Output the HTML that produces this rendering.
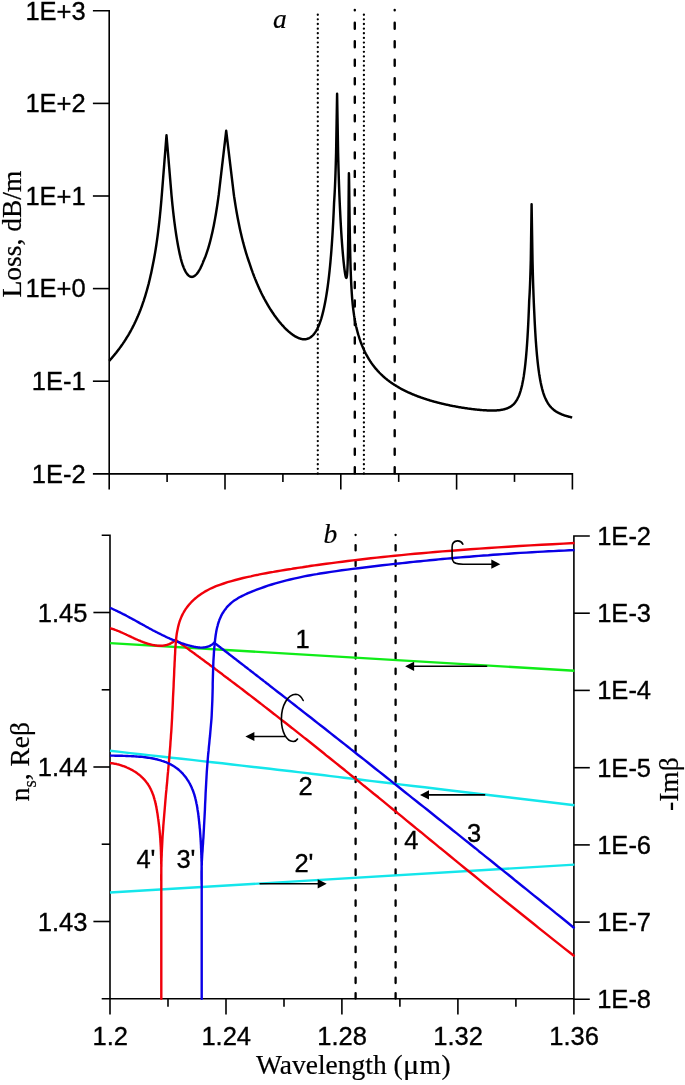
<!DOCTYPE html>
<html><head><meta charset="utf-8"><title>Loss and mode dispersion</title>
<style>html,body{margin:0;padding:0;background:#fff}svg{display:block}text{fill:#000;stroke:#000}.sans{font-family:"Liberation Sans",sans-serif;font-size:25.5px;stroke-width:0.35px}.serif{font-family:"Liberation Serif",serif;font-size:27.5px;stroke-width:0.2px}</style></head><body>
<svg width="685" height="1085" viewBox="0 0 685 1085">
<rect width="685" height="1085" fill="#fff"/>
<g stroke="#000" stroke-width="1.6" fill="none">
<path d="M92.9,10.8 H109.2 V489.6"/>
<path d="M92.9,473.9 H572.4 V489.6"/>
<path d="M92.9,103.4 H109.2"/>
<path d="M92.9,196.0 H109.2"/>
<path d="M92.9,288.6 H109.2"/>
<path d="M92.9,381.2 H109.2"/>
<path d="M167.1,473.9 V481.9"/>
<path d="M225.0,473.9 V489.6"/>
<path d="M282.9,473.9 V481.9"/>
<path d="M340.8,473.9 V489.6"/>
<path d="M398.7,473.9 V481.9"/>
<path d="M456.6,473.9 V489.6"/>
<path d="M514.5,473.9 V481.9"/>
</g>
<text x="85.7" y="19.5" text-anchor="end" class="sans">1E+3</text>
<text x="85.7" y="112.1" text-anchor="end" class="sans">1E+2</text>
<text x="85.7" y="204.7" text-anchor="end" class="sans">1E+1</text>
<text x="85.7" y="297.3" text-anchor="end" class="sans">1E+0</text>
<text x="85.7" y="389.9" text-anchor="end" class="sans">1E-1</text>
<text x="85.7" y="482.6" text-anchor="end" class="sans">1E-2</text>
<text transform="translate(21.2,297.5) rotate(-90)" class="serif">Loss, dB/m</text>
<text x="273" y="27.7" font-style="italic" class="serif">a</text>
<g stroke="#000" fill="none" stroke-linecap="round">
<path d="M317.8,473.5 V14.3" stroke-width="2.3" stroke-dasharray="0.01 4.624"/>
<path d="M363.9,473.5 V14.3" stroke-width="2.3" stroke-dasharray="0.01 4.624"/>
<path d="M354.8,473.2 V10" stroke-width="2.4" stroke-dasharray="6 12.52"/>
<path d="M394.7,473.2 V10" stroke-width="2.4" stroke-dasharray="6 12.52"/>
</g>
<path d="M109.2,360.9 L109.7,360.3 L110.2,359.8 L110.7,359.2 L111.2,358.6 L111.7,358.1 L112.2,357.5 L112.7,356.9 L113.2,356.3 L113.7,355.7 L114.2,355.1 L114.7,354.5 L115.2,353.9 L115.7,353.3 L116.2,352.7 L116.7,352.0 L117.2,351.4 L117.7,350.7 L118.2,350.1 L118.7,349.4 L119.2,348.8 L119.7,348.1 L120.2,347.4 L120.7,346.7 L121.2,346.0 L121.7,345.3 L122.2,344.6 L122.7,343.9 L123.2,343.1 L123.7,342.4 L124.2,341.7 L124.7,340.9 L125.2,340.1 L125.7,339.3 L126.2,338.5 L126.7,337.7 L127.2,336.9 L127.7,336.1 L128.2,335.3 L128.7,334.4 L129.2,333.6 L129.7,332.7 L130.2,331.8 L130.7,330.9 L131.2,330.0 L131.7,329.0 L132.2,328.1 L132.7,327.1 L133.2,326.2 L133.7,325.2 L134.2,324.2 L134.7,323.1 L135.2,322.1 L135.7,321.0 L136.2,319.9 L136.7,318.8 L137.2,317.7 L137.7,316.6 L138.2,315.4 L138.7,314.2 L139.2,313.0 L139.7,311.7 L140.2,310.5 L140.7,309.2 L141.2,307.8 L141.7,306.5 L142.2,305.1 L142.7,303.7 L143.2,302.2 L143.7,300.8 L144.2,299.2 L144.7,297.7 L145.2,296.1 L145.7,294.4 L146.2,292.7 L146.7,291.0 L147.2,289.2 L147.7,287.4 L148.2,285.5 L148.7,283.6 L149.2,281.5 L149.7,279.5 L150.2,277.3 L150.7,275.1 L151.2,272.9 L151.7,270.5 L152.2,268.0 L152.7,265.6 L153.2,263.1 L153.7,260.5 L154.2,257.8 L154.7,255.0 L155.2,252.1 L155.7,249.0 L156.2,245.8 L156.7,242.4 L157.2,238.9 L157.7,235.1 L158.2,231.2 L158.5,228.7 L158.6,227.9 L158.7,227.0 L158.8,226.2 L158.9,225.3 L159.0,224.4 L159.1,223.5 L159.2,222.6 L159.3,221.7 L159.4,220.8 L159.5,219.9 L159.6,218.9 L159.7,218.0 L159.8,217.0 L159.9,216.0 L160.0,215.0 L160.1,214.0 L160.2,213.0 L160.3,212.0 L160.4,210.9 L160.5,209.9 L160.6,208.8 L160.7,207.7 L160.8,206.7 L160.9,205.6 L161.0,204.4 L161.1,203.3 L161.2,202.2 L161.3,201.0 L161.4,199.8 L161.5,198.6 L161.6,197.4 L161.7,196.2 L161.8,195.0 L161.9,193.7 L162.0,192.5 L162.1,191.2 L162.2,189.9 L162.3,188.6 L162.4,187.4 L162.5,186.1 L162.6,184.8 L162.7,183.6 L162.8,182.3 L162.9,181.0 L163.0,179.8 L163.1,178.5 L163.2,177.2 L163.3,175.9 L163.4,174.7 L163.5,173.4 L163.6,172.1 L163.7,170.9 L163.8,169.6 L163.9,168.3 L164.0,167.1 L164.1,165.8 L164.2,164.5 L164.3,163.2 L164.4,162.0 L164.5,160.7 L164.6,159.4 L164.7,158.2 L164.8,156.9 L164.9,155.6 L165.0,154.4 L165.1,153.1 L165.2,151.8 L165.3,150.5 L165.4,149.3 L165.5,148.0 L165.6,146.7 L165.7,145.5 L165.8,144.2 L165.9,142.9 L166.0,141.7 L166.1,140.4 L166.2,139.1 L166.3,137.8 L166.4,136.6 L166.5,135.3 L166.6,136.5 L166.7,137.7 L166.8,138.9 L166.9,140.1 L167.0,141.3 L167.1,142.5 L167.2,143.7 L167.3,144.9 L167.4,146.0 L167.5,147.2 L167.6,148.4 L167.7,149.6 L167.8,150.8 L167.9,152.0 L168.0,153.2 L168.1,154.4 L168.2,155.6 L168.3,156.8 L168.4,158.0 L168.5,159.2 L168.6,160.4 L168.7,161.6 L168.8,162.8 L168.9,164.0 L169.0,165.2 L169.1,166.3 L169.2,167.5 L169.3,168.7 L169.4,169.9 L169.5,171.1 L169.6,172.3 L169.7,173.5 L169.8,174.7 L169.9,175.9 L170.0,177.1 L170.1,178.3 L170.2,179.5 L170.3,180.7 L170.4,181.9 L170.5,183.1 L170.6,184.3 L170.7,185.4 L170.8,186.6 L170.9,187.8 L171.0,189.0 L171.1,190.2 L171.2,191.4 L171.3,192.6 L171.4,193.8 L171.5,195.0 L171.6,196.1 L171.7,197.1 L171.8,198.2 L171.9,199.2 L172.0,200.3 L172.1,201.3 L172.2,202.3 L172.3,203.3 L172.4,204.3 L172.5,205.3 L172.6,206.2 L172.7,207.2 L172.8,208.1 L172.9,209.0 L173.0,210.0 L173.1,210.9 L173.2,211.8 L173.3,212.7 L173.4,213.5 L173.5,214.4 L173.6,215.3 L173.7,216.1 L173.8,217.0 L173.9,217.8 L174.0,218.6 L174.1,219.5 L174.2,220.3 L174.3,221.1 L174.4,221.8 L174.7,224.2 L175.2,227.9 L175.7,231.4 L176.2,234.7 L176.7,237.9 L177.2,240.9 L177.7,243.8 L178.2,246.5 L178.7,249.1 L179.2,251.5 L179.7,253.9 L180.2,256.1 L180.7,258.2 L181.2,260.1 L181.7,261.9 L182.2,263.5 L182.7,265.0 L183.2,266.3 L183.7,267.6 L184.2,268.8 L184.7,269.9 L185.2,270.9 L185.7,271.8 L186.2,272.6 L186.7,273.4 L187.2,274.1 L187.7,274.7 L188.2,275.2 L188.7,275.6 L189.2,276.0 L189.7,276.3 L190.2,276.6 L190.7,276.7 L191.2,276.8 L191.7,276.9 L192.2,276.9 L192.7,276.8 L193.2,276.6 L193.7,276.4 L194.2,276.2 L194.7,275.8 L195.2,275.5 L195.7,275.0 L196.2,274.5 L196.7,274.0 L197.2,273.4 L197.7,272.7 L198.2,272.0 L198.7,271.2 L199.2,270.4 L199.7,269.5 L200.2,268.6 L200.7,267.6 L201.2,266.5 L201.7,265.4 L202.2,264.3 L202.7,263.1 L203.2,261.8 L203.7,260.5 L204.2,259.4 L204.7,258.2 L205.2,257.0 L205.7,255.7 L206.2,254.3 L206.7,252.9 L207.2,251.4 L207.7,249.9 L208.2,248.3 L208.7,246.6 L209.2,244.9 L209.7,243.1 L210.2,241.2 L210.7,239.3 L211.2,237.3 L211.7,235.1 L212.2,233.0 L212.7,230.7 L213.2,228.3 L213.7,225.9 L214.2,223.3 L214.7,220.6 L215.2,217.9 L215.7,215.0 L216.2,212.0 L216.7,208.8 L217.2,205.6 L217.7,202.2 L218.2,198.7 L218.3,197.9 L218.4,197.2 L218.5,196.5 L218.6,195.7 L218.7,195.0 L218.8,194.1 L218.9,193.3 L219.0,192.4 L219.1,191.6 L219.2,190.7 L219.3,189.9 L219.4,189.0 L219.5,188.2 L219.6,187.3 L219.7,186.4 L219.8,185.6 L219.9,184.7 L220.0,183.9 L220.1,183.0 L220.2,182.2 L220.3,181.3 L220.4,180.4 L220.5,179.6 L220.6,178.7 L220.7,177.9 L220.8,177.0 L220.9,176.2 L221.0,175.3 L221.1,174.5 L221.2,173.6 L221.3,172.7 L221.4,171.9 L221.5,171.0 L221.6,170.2 L221.7,169.3 L221.8,168.5 L221.9,167.6 L222.0,166.8 L222.1,165.9 L222.2,165.0 L222.3,164.2 L222.4,163.3 L222.5,162.5 L222.6,161.6 L222.7,160.8 L222.8,159.9 L222.9,159.0 L223.0,158.2 L223.1,157.3 L223.2,156.5 L223.3,155.6 L223.4,154.8 L223.5,153.9 L223.6,153.1 L223.7,152.2 L223.8,151.3 L223.9,150.5 L224.0,149.6 L224.1,148.8 L224.2,147.9 L224.3,147.1 L224.4,146.2 L224.5,145.4 L224.6,144.5 L224.7,143.6 L224.8,142.8 L224.9,141.9 L225.0,141.1 L225.1,140.2 L225.2,139.4 L225.3,138.5 L225.4,137.6 L225.5,136.8 L225.6,135.9 L225.7,135.1 L225.8,134.2 L225.9,133.4 L226.0,132.5 L226.1,131.7 L226.2,130.8 L226.3,131.6 L226.4,132.5 L226.5,133.3 L226.6,134.1 L226.7,135.0 L226.8,135.8 L226.9,136.6 L227.0,137.5 L227.1,138.3 L227.2,139.1 L227.3,140.0 L227.4,140.8 L227.5,141.6 L227.6,142.5 L227.7,143.3 L227.8,144.1 L227.9,145.0 L228.0,145.8 L228.1,146.6 L228.2,147.5 L228.3,148.3 L228.4,149.1 L228.5,150.0 L228.6,150.8 L228.7,151.6 L228.8,152.5 L228.9,153.3 L229.0,154.1 L229.1,155.0 L229.2,155.8 L229.3,156.6 L229.4,157.5 L229.5,158.3 L229.6,159.1 L229.7,160.0 L229.8,160.8 L229.9,161.6 L230.0,162.5 L230.1,163.3 L230.2,164.2 L230.3,165.0 L230.4,165.8 L230.5,166.7 L230.6,167.5 L230.7,168.3 L230.8,169.2 L230.9,170.0 L231.0,170.8 L231.1,171.7 L231.2,172.5 L231.3,173.3 L231.4,174.2 L231.5,175.0 L231.6,175.8 L231.7,176.7 L231.8,177.5 L231.9,178.3 L232.0,179.2 L232.1,180.0 L232.2,180.8 L232.3,181.7 L232.4,182.5 L232.5,183.3 L232.6,184.2 L232.7,185.0 L232.8,185.8 L232.9,186.7 L233.0,187.5 L233.1,188.3 L233.2,189.2 L233.3,190.0 L233.4,190.8 L233.5,191.7 L233.6,192.5 L233.7,193.3 L233.8,194.2 L233.9,195.0 L234.0,195.7 L234.1,196.4 L234.2,197.0 L234.7,200.3 L235.2,203.5 L235.7,206.6 L236.2,209.6 L236.7,212.5 L237.2,215.3 L237.7,218.0 L238.2,220.6 L238.7,223.1 L239.2,225.5 L239.7,227.9 L240.2,230.2 L240.7,232.4 L241.2,234.6 L241.7,236.7 L242.2,238.7 L242.7,240.7 L243.2,242.7 L243.7,244.5 L244.2,246.4 L244.7,248.2 L245.2,249.9 L245.7,251.6 L246.2,253.3 L246.7,254.9 L247.2,256.5 L247.7,258.0 L248.2,259.5 L248.7,261.0 L249.2,262.4 L249.7,263.9 L250.2,265.4 L250.7,266.9 L251.2,268.4 L251.7,269.8 L252.2,271.2 L252.7,272.6 L253.2,273.9 L253.7,275.3 L254.2,276.6 L254.7,277.8 L255.2,279.1 L255.7,280.3 L256.2,281.5 L256.7,282.7 L257.2,283.9 L257.7,285.1 L258.2,286.2 L258.7,287.3 L259.2,288.4 L259.7,289.5 L260.2,290.6 L260.7,291.6 L261.2,292.7 L261.7,293.7 L262.2,294.7 L262.7,295.7 L263.2,296.7 L263.7,297.6 L264.2,298.6 L264.7,299.5 L265.2,300.4 L265.7,301.3 L266.2,302.2 L266.7,303.1 L267.2,304.0 L267.7,304.8 L268.2,305.7 L268.7,306.5 L269.2,307.3 L269.7,308.2 L270.2,309.0 L270.7,309.7 L271.2,310.5 L271.7,311.3 L272.2,312.0 L272.7,312.8 L273.2,313.5 L273.7,314.2 L274.2,315.0 L274.7,315.7 L275.2,316.4 L275.7,317.0 L276.2,317.7 L276.7,318.4 L277.2,319.0 L277.7,319.7 L278.2,320.3 L278.7,321.0 L279.2,321.6 L279.7,322.2 L280.2,322.8 L280.7,323.4 L281.2,324.0 L281.7,324.5 L282.2,325.1 L282.7,325.7 L283.2,326.2 L283.7,326.7 L284.2,327.3 L284.7,327.8 L285.2,328.3 L285.7,328.8 L286.2,329.3 L286.7,329.8 L287.2,330.2 L287.7,330.7 L288.2,331.1 L288.7,331.6 L289.2,332.0 L289.7,332.4 L290.2,332.8 L290.7,333.2 L291.2,333.6 L291.7,334.0 L292.2,334.4 L292.7,334.7 L293.2,335.1 L293.7,335.4 L294.2,335.7 L294.7,336.1 L295.2,336.4 L295.7,336.6 L296.2,336.9 L296.7,337.2 L297.2,337.4 L297.7,337.7 L298.2,337.9 L298.7,338.1 L299.2,338.3 L299.7,338.4 L300.2,338.6 L300.7,338.8 L301.2,338.9 L301.7,339.0 L302.2,339.1 L302.7,339.2 L303.2,339.2 L303.7,339.2 L304.2,339.3 L304.7,339.3 L305.2,339.2 L305.7,339.2 L306.2,339.1 L306.7,339.0 L307.2,338.9 L307.7,338.7 L308.2,338.5 L308.7,338.3 L309.2,338.1 L309.7,337.8 L310.2,337.5 L310.7,337.2 L311.2,336.8 L311.7,336.4 L312.2,336.0 L312.7,335.5 L313.2,335.0 L313.7,334.4 L314.2,333.8 L314.7,333.1 L315.2,332.4 L315.7,331.6 L316.2,330.8 L316.7,329.9 L317.2,329.0 L317.7,327.9 L318.2,326.9 L318.7,325.7 L319.2,324.5 L319.7,323.2 L320.2,321.8 L320.7,320.3 L321.2,318.8 L321.7,317.1 L322.2,315.3 L322.7,313.4 L323.2,311.4 L323.7,309.3 L324.2,307.0 L324.7,304.6 L325.2,302.1 L325.7,299.3 L326.2,296.4 L326.7,293.3 L327.2,290.0 L327.7,286.5 L328.2,282.7 L328.7,278.6 L329.1,275.1 L329.2,274.2 L329.3,273.3 L329.4,272.4 L329.5,271.5 L329.6,270.5 L329.7,269.5 L329.8,268.5 L329.9,267.5 L330.0,266.5 L330.1,265.5 L330.2,264.4 L330.3,263.3 L330.4,262.3 L330.5,261.2 L330.6,260.0 L330.7,258.9 L330.8,257.7 L330.9,256.5 L331.0,255.3 L331.1,254.1 L331.2,252.8 L331.3,251.6 L331.4,250.3 L331.5,249.0 L331.6,247.6 L331.7,246.2 L331.8,244.8 L331.9,243.4 L332.0,241.9 L332.1,240.5 L332.2,238.9 L332.3,237.4 L332.4,235.8 L332.5,234.2 L332.6,232.5 L332.7,230.8 L332.8,229.1 L332.9,227.4 L333.0,225.5 L333.1,223.7 L333.2,221.8 L333.3,219.8 L333.4,217.8 L333.5,215.8 L333.6,213.7 L333.7,211.5 L333.8,209.3 L333.9,207.0 L334.0,204.7 L334.1,202.3 L334.2,200.8 L334.3,199.3 L334.4,197.6 L334.5,195.9 L334.6,194.1 L334.7,192.3 L334.8,190.3 L334.9,188.2 L335.0,186.0 L335.1,183.6 L335.2,181.2 L335.3,178.6 L335.4,175.9 L335.5,173.0 L335.6,170.0 L335.7,166.8 L335.8,163.5 L335.9,160.0 L336.0,156.4 L336.1,152.6 L336.2,146.7 L336.3,140.8 L336.4,134.9 L336.5,129.0 L336.6,123.2 L336.7,117.3 L336.8,111.4 L336.9,105.5 L337.0,99.6 L337.1,93.7 L337.2,99.6 L337.3,105.5 L337.4,111.4 L337.5,117.3 L337.6,123.2 L337.7,129.0 L337.8,134.9 L337.9,140.8 L338.0,146.7 L338.1,152.6 L338.2,156.8 L338.3,160.8 L338.4,164.6 L338.5,168.2 L338.6,171.7 L338.7,175.0 L338.8,178.2 L338.9,181.3 L339.0,184.3 L339.1,187.1 L339.2,189.9 L339.3,192.5 L339.4,195.1 L339.5,197.5 L339.6,199.9 L339.7,202.3 L339.8,204.5 L339.9,206.7 L340.0,208.8 L340.1,210.9 L340.2,212.9 L340.3,215.0 L340.4,217.0 L340.5,218.9 L340.6,220.8 L340.7,222.6 L340.8,224.4 L340.9,226.2 L341.0,227.9 L341.1,229.5 L341.2,231.2 L341.3,232.8 L341.4,234.3 L341.5,235.9 L341.6,237.3 L341.7,238.8 L341.8,240.2 L341.9,241.6 L342.0,243.0 L342.1,244.4 L342.2,245.7 L342.3,247.0 L342.4,248.2 L342.5,249.5 L342.6,250.7 L342.7,251.9 L342.8,253.1 L342.9,254.2 L343.0,255.3 L343.1,256.4 L343.2,257.5 L343.3,258.5 L343.4,259.6 L343.5,260.6 L343.6,261.6 L343.7,262.5 L343.8,263.5 L343.9,264.4 L344.0,265.3 L344.1,266.2 L344.2,267.0 L344.3,267.9 L344.4,268.7 L344.5,269.5 L344.6,270.2 L344.7,271.0 L344.8,271.7 L344.9,272.4 L345.0,273.0 L345.1,273.6 L345.2,274.2 L345.3,274.8 L345.4,275.3 L345.5,275.8 L345.6,276.2 L345.7,276.6 L345.8,277.0 L345.9,277.3 L346.0,277.5 L346.1,277.7 L346.2,277.8 L346.3,277.9 L346.4,277.8 L346.5,277.7 L346.6,277.5 L346.7,277.1 L346.8,276.6 L346.9,276.0 L347.0,275.2 L347.1,274.2 L347.2,273.0 L347.3,271.6 L347.4,269.9 L347.5,267.8 L347.6,265.4 L347.7,262.5 L347.8,259.2 L347.9,255.3 L348.0,250.7 L348.1,245.4 L348.2,239.2 L348.3,232.0 L348.4,223.7 L348.5,214.2 L348.6,203.6 L348.7,192.3 L348.8,181.4 L348.9,173.3 L349.0,175.3 L349.1,180.5 L349.2,187.7 L349.3,195.7 L349.4,204.0 L349.5,211.9 L349.6,219.4 L349.7,226.4 L349.8,232.7 L349.9,238.6 L350.0,243.9 L350.1,248.8 L350.2,253.3 L350.3,257.4 L350.4,261.2 L350.5,264.7 L350.6,267.9 L350.7,270.9 L350.8,273.7 L350.9,276.3 L351.0,278.7 L351.1,281.0 L351.2,283.1 L351.3,285.1 L351.4,287.0 L351.5,288.7 L351.6,290.4 L351.7,292.0 L351.8,293.5 L351.9,294.9 L352.0,296.3 L352.1,297.6 L352.2,298.8 L352.3,300.0 L352.4,301.1 L352.5,302.2 L352.6,303.3 L352.7,304.3 L352.8,305.3 L352.9,306.2 L353.0,307.1 L353.1,308.0 L353.2,308.8 L353.3,309.7 L353.4,310.5 L353.5,311.2 L353.6,312.0 L353.7,312.7 L353.8,313.4 L353.9,314.1 L354.0,314.8 L354.1,315.5 L354.2,316.1 L354.3,316.7 L354.4,317.4 L354.5,318.0 L354.6,318.6 L354.7,319.1 L354.8,319.7 L354.9,320.2 L355.0,320.8 L355.1,321.3 L355.2,321.8 L355.3,322.4 L355.4,322.9 L355.5,323.4 L355.6,323.8 L355.7,324.3 L355.8,324.8 L355.9,325.3 L356.0,325.7 L356.1,326.2 L356.2,326.6 L356.3,327.1 L356.4,327.5 L356.5,327.9 L356.6,328.3 L356.7,328.7 L356.8,329.1 L357.2,330.7 L357.7,332.6 L358.2,334.4 L358.7,336.0 L359.2,337.6 L359.7,339.2 L360.2,340.6 L360.7,342.0 L361.2,343.3 L361.7,344.6 L362.2,345.9 L362.7,347.1 L363.2,348.2 L363.7,349.3 L364.2,350.4 L364.7,351.5 L365.2,352.5 L365.7,353.5 L366.2,354.4 L366.7,355.3 L367.2,356.2 L367.7,357.1 L368.2,358.0 L368.7,358.8 L369.2,359.6 L369.7,360.4 L370.2,361.2 L370.7,361.9 L371.2,362.7 L371.7,363.4 L372.2,364.1 L372.7,364.8 L373.2,365.4 L373.7,366.1 L374.2,366.7 L374.7,367.4 L375.2,368.0 L375.7,368.6 L376.2,369.2 L376.7,369.7 L377.2,370.3 L377.7,370.9 L378.2,371.4 L378.7,371.9 L379.2,372.5 L379.7,373.0 L380.2,373.5 L380.7,374.0 L381.2,374.5 L381.7,374.9 L382.2,375.4 L382.7,375.9 L383.2,376.3 L383.7,376.8 L384.2,377.2 L384.7,377.6 L385.2,378.1 L385.7,378.5 L386.2,378.9 L386.7,379.3 L387.2,379.7 L387.7,380.1 L388.2,380.5 L388.7,380.8 L389.2,381.2 L389.7,381.6 L390.2,382.0 L390.7,382.3 L391.2,382.7 L391.7,383.0 L392.2,383.4 L392.7,383.7 L393.2,384.0 L393.7,384.4 L394.2,384.7 L394.7,385.0 L395.2,385.3 L395.7,385.6 L396.2,385.9 L396.7,386.2 L397.2,386.5 L397.7,386.8 L398.2,387.1 L398.7,387.4 L399.2,387.7 L399.7,388.0 L400.2,388.3 L400.7,388.6 L401.2,388.8 L401.7,389.1 L402.2,389.4 L402.7,389.6 L403.2,389.9 L403.7,390.1 L404.2,390.4 L404.7,390.6 L405.2,390.9 L405.7,391.1 L406.2,391.4 L406.7,391.6 L407.2,391.8 L407.7,392.1 L408.2,392.3 L408.7,392.5 L409.2,392.8 L409.7,393.0 L410.2,393.2 L410.7,393.4 L411.2,393.7 L411.7,393.9 L412.2,394.1 L412.7,394.3 L413.2,394.5 L413.7,394.7 L414.2,394.9 L414.7,395.1 L415.2,395.3 L415.7,395.5 L416.2,395.7 L416.7,395.9 L417.2,396.1 L417.7,396.3 L418.2,396.5 L418.7,396.7 L419.2,396.8 L419.7,397.0 L420.2,397.2 L420.7,397.4 L421.2,397.6 L421.7,397.7 L422.2,397.9 L422.7,398.1 L423.2,398.2 L423.7,398.4 L424.2,398.6 L424.7,398.7 L425.2,398.9 L425.7,399.1 L426.2,399.2 L426.7,399.4 L427.2,399.6 L427.7,399.7 L428.2,399.9 L428.7,400.0 L429.2,400.2 L429.7,400.3 L430.2,400.5 L430.7,400.6 L431.2,400.8 L431.7,400.9 L432.2,401.1 L432.7,401.2 L433.2,401.3 L433.7,401.5 L434.2,401.6 L434.7,401.8 L435.2,401.9 L435.7,402.0 L436.2,402.2 L436.7,402.3 L437.2,402.4 L437.7,402.6 L438.2,402.7 L438.7,402.8 L439.2,402.9 L439.7,403.1 L440.2,403.2 L440.7,403.3 L441.2,403.4 L441.7,403.6 L442.2,403.7 L442.7,403.8 L443.2,403.9 L443.7,404.0 L444.2,404.1 L444.7,404.3 L445.2,404.4 L445.7,404.5 L446.2,404.6 L446.7,404.7 L447.2,404.8 L447.7,404.9 L448.2,405.0 L448.7,405.1 L449.2,405.2 L449.7,405.3 L450.2,405.5 L450.7,405.6 L451.2,405.7 L451.7,405.8 L452.2,405.9 L452.7,406.0 L453.2,406.1 L453.7,406.1 L454.2,406.2 L454.7,406.3 L455.2,406.4 L455.7,406.5 L456.2,406.6 L456.7,406.7 L457.2,406.8 L457.7,406.9 L458.2,407.0 L458.7,407.1 L459.2,407.2 L459.7,407.2 L460.2,407.3 L460.7,407.4 L461.2,407.5 L461.7,407.6 L462.2,407.7 L462.7,407.7 L463.2,407.8 L463.7,407.9 L464.2,408.0 L464.7,408.0 L465.2,408.1 L465.7,408.2 L466.2,408.3 L466.7,408.3 L467.2,408.4 L467.7,408.5 L468.2,408.6 L468.7,408.6 L469.2,408.7 L469.7,408.8 L470.2,408.8 L470.7,408.9 L471.2,409.0 L471.7,409.0 L472.2,409.1 L472.7,409.1 L473.2,409.2 L473.7,409.3 L474.2,409.3 L474.7,409.4 L475.2,409.4 L475.7,409.5 L476.2,409.5 L476.7,409.6 L477.2,409.6 L477.7,409.7 L478.2,409.7 L478.7,409.8 L479.2,409.8 L479.7,409.9 L480.2,409.9 L480.7,410.0 L481.2,410.0 L481.7,410.1 L482.2,410.1 L482.7,410.1 L483.2,410.2 L483.7,410.2 L484.2,410.2 L484.7,410.3 L485.2,410.3 L485.7,410.3 L486.2,410.3 L486.7,410.4 L487.2,410.4 L487.7,410.4 L488.2,410.4 L488.7,410.4 L489.2,410.5 L489.7,410.5 L490.2,410.5 L490.7,410.5 L491.2,410.5 L491.7,410.5 L492.2,410.5 L492.7,410.5 L493.2,410.5 L493.7,410.5 L494.2,410.5 L494.7,410.5 L495.2,410.4 L495.7,410.4 L496.2,410.4 L496.7,410.4 L497.2,410.3 L497.7,410.3 L498.2,410.3 L498.7,410.2 L499.2,410.2 L499.7,410.1 L500.2,410.0 L500.7,410.0 L501.2,409.9 L501.7,409.8 L502.2,409.7 L502.7,409.6 L503.2,409.5 L503.7,409.4 L504.2,409.3 L504.7,409.2 L505.2,409.0 L505.7,408.9 L506.2,408.7 L506.7,408.5 L507.2,408.3 L507.7,408.1 L508.2,407.9 L508.7,407.7 L509.2,407.4 L509.7,407.2 L510.2,406.9 L510.7,406.6 L511.2,406.2 L511.7,405.9 L512.2,405.5 L512.7,405.0 L513.2,404.6 L513.7,404.1 L514.2,403.6 L514.7,403.0 L515.2,402.4 L515.7,401.7 L516.2,400.9 L516.7,400.2 L517.2,399.3 L517.7,398.3 L518.2,397.3 L518.7,396.2 L519.2,395.0 L519.7,393.6 L520.2,392.1 L520.7,390.5 L521.2,388.7 L521.7,386.7 L522.2,384.6 L522.7,382.1 L523.2,379.5 L523.6,377.1 L523.7,376.5 L523.8,375.8 L523.9,375.2 L524.0,374.5 L524.1,373.8 L524.2,373.1 L524.3,372.4 L524.4,371.7 L524.5,370.9 L524.6,370.2 L524.7,369.4 L524.8,368.6 L524.9,367.8 L525.0,366.9 L525.1,366.1 L525.2,365.2 L525.3,364.3 L525.4,363.4 L525.5,362.4 L525.6,361.4 L525.7,360.4 L525.8,359.4 L525.9,358.4 L526.0,357.3 L526.1,356.2 L526.2,355.1 L526.3,353.9 L526.4,352.7 L526.5,351.5 L526.6,350.3 L526.7,349.0 L526.8,347.7 L526.9,346.3 L527.0,344.9 L527.1,343.5 L527.2,342.0 L527.3,340.5 L527.4,338.9 L527.5,337.3 L527.6,335.6 L527.7,333.9 L527.8,332.2 L527.9,330.4 L528.0,328.5 L528.1,326.6 L528.2,324.6 L528.3,322.5 L528.4,320.4 L528.5,318.2 L528.6,315.9 L528.7,313.5 L528.8,311.1 L528.9,308.6 L529.0,306.0 L529.1,303.2 L529.2,300.4 L529.3,299.0 L529.4,297.5 L529.5,295.8 L529.6,294.0 L529.7,292.1 L529.8,290.0 L529.9,287.8 L530.0,285.4 L530.1,282.8 L530.2,280.1 L530.3,277.1 L530.4,274.0 L530.5,270.7 L530.6,267.2 L530.7,263.6 L530.8,259.8 L530.9,252.9 L531.0,245.9 L531.1,239.0 L531.2,232.0 L531.3,225.1 L531.4,218.2 L531.5,211.2 L531.6,204.3 L531.7,210.5 L531.8,216.6 L531.9,222.8 L532.0,229.0 L532.1,235.1 L532.2,241.3 L532.3,247.5 L532.4,253.6 L532.5,259.8 L532.6,264.1 L532.7,268.2 L532.8,272.1 L532.9,275.8 L533.0,279.3 L533.1,282.7 L533.2,285.9 L533.3,288.9 L533.4,291.8 L533.5,294.6 L533.6,297.3 L533.7,299.8 L533.8,302.3 L533.9,304.6 L534.0,306.9 L534.1,309.0 L534.2,311.1 L534.3,313.1 L534.4,315.3 L534.5,317.5 L534.6,319.6 L534.7,321.6 L534.8,323.6 L534.9,325.5 L535.0,327.3 L535.1,329.1 L535.2,330.9 L535.3,332.6 L535.4,334.2 L535.5,335.8 L535.6,337.4 L535.7,338.9 L535.8,340.3 L535.9,341.8 L536.0,343.2 L536.1,344.5 L536.2,345.9 L536.3,347.1 L536.4,348.4 L536.5,349.6 L536.6,350.8 L536.7,352.0 L536.8,353.1 L536.9,354.3 L537.0,355.3 L537.1,356.4 L537.2,357.4 L537.3,358.5 L537.4,359.4 L537.5,360.4 L537.6,361.4 L537.7,362.3 L537.8,363.2 L537.9,364.1 L538.0,364.9 L538.1,365.8 L538.2,366.6 L538.3,367.4 L538.4,368.2 L538.5,369.0 L538.6,369.7 L538.7,370.5 L538.8,371.2 L538.9,371.9 L539.0,372.6 L539.1,373.3 L539.2,374.0 L539.3,374.6 L539.4,375.3 L539.5,375.9 L539.7,377.1 L540.2,380.0 L540.7,382.6 L541.2,384.9 L541.7,387.1 L542.2,389.1 L542.7,390.9 L543.2,392.6 L543.7,394.1 L544.2,395.5 L544.7,396.8 L545.2,398.0 L545.7,399.1 L546.2,400.2 L546.7,401.1 L547.2,402.0 L547.7,402.9 L548.2,403.7 L548.7,404.4 L549.2,405.1 L549.7,405.8 L550.2,406.4 L550.7,406.9 L551.2,407.5 L551.7,408.0 L552.2,408.5 L552.7,408.9 L553.2,409.4 L553.7,409.8 L554.2,410.2 L554.7,410.6 L555.2,410.9 L555.7,411.3 L556.2,411.6 L556.7,411.9 L557.2,412.2 L557.7,412.5 L558.2,412.7 L558.7,413.0 L559.2,413.2 L559.7,413.5 L560.2,413.7 L560.7,413.9 L561.2,414.2 L561.7,414.4 L562.2,414.6 L562.7,414.8 L563.2,414.9 L563.7,415.1 L564.2,415.3 L564.7,415.5 L565.2,415.6 L565.7,415.8 L566.2,415.9 L566.7,416.1 L567.2,416.2 L567.7,416.4 L568.2,416.5 L568.7,416.7 L569.2,416.8 L569.7,416.9 L570.2,417.0 L570.7,417.2 L571.2,417.3 L571.7,417.4 L572.2,417.5" fill="none" stroke="#000" stroke-width="2.45" stroke-linejoin="round"/>
<g stroke="#000" stroke-width="1.6" fill="none">
<path d="M101.7,535.3 H110.0 V1014.6"/>
<path d="M101.7,998.8 H573.9"/>
<path d="M589.8,536.0 H573.9 V999.3 H589.8"/>
<path d="M573.9,998.8 V1014.6"/>
<path d="M93.4,612.5 H110.0"/>
<path d="M573.9,613.2 H589.8"/>
<path d="M101.7,689.8 H110.0"/>
<path d="M573.9,690.4 H589.8"/>
<path d="M93.4,767.0 H110.0"/>
<path d="M573.9,767.7 H589.8"/>
<path d="M101.7,844.2 H110.0"/>
<path d="M573.9,844.9 H589.8"/>
<path d="M93.4,921.5 H110.0"/>
<path d="M573.9,922.1 H589.8"/>
<path d="M168.0,998.8 V1006.8"/>
<path d="M226.0,998.8 V1014.6"/>
<path d="M284.0,998.8 V1006.8"/>
<path d="M341.9,998.8 V1014.6"/>
<path d="M399.9,998.8 V1006.8"/>
<path d="M457.9,998.8 V1014.6"/>
<path d="M515.9,998.8 V1006.8"/>
</g>
<text x="87.4" y="621.6" text-anchor="end" class="sans">1.45</text>
<text x="87.4" y="776.1" text-anchor="end" class="sans">1.44</text>
<text x="87.4" y="930.6" text-anchor="end" class="sans">1.43</text>
<text x="597.2" y="545.0" class="sans">1E-2</text>
<text x="597.2" y="622.2" class="sans">1E-3</text>
<text x="597.2" y="699.4" class="sans">1E-4</text>
<text x="597.2" y="776.7" class="sans">1E-5</text>
<text x="597.2" y="853.9" class="sans">1E-6</text>
<text x="597.2" y="931.1" class="sans">1E-7</text>
<text x="597.2" y="1008.3" class="sans">1E-8</text>
<text x="110.2" y="1045.2" text-anchor="middle" class="sans">1.2</text>
<text x="226.2" y="1045.2" text-anchor="middle" class="sans">1.24</text>
<text x="342.1" y="1045.2" text-anchor="middle" class="sans">1.28</text>
<text x="458.1" y="1045.2" text-anchor="middle" class="sans">1.32</text>
<text x="574.1" y="1045.2" text-anchor="middle" class="sans">1.36</text>
<text x="256" y="1073.6" class="serif">Wavelength (<tspan dx="0.3" textLength="16.2" lengthAdjust="spacingAndGlyphs">μ</tspan><tspan dx="0.3">m</tspan><tspan dx="0.6">)</tspan></text>
<text transform="translate(28.8,801.3) rotate(-90)" class="serif">n<tspan font-size="18.5" dy="7.5">s</tspan><tspan dy="-7.5">, Reβ</tspan></text>
<text transform="translate(678,811) rotate(-90)" class="serif">-Imβ</text>
<text x="323.5" y="543.3" font-style="italic" class="serif">b</text>
<g stroke="#000" fill="none" stroke-linecap="round">
<path d="M355.6,998.5 V534.8" stroke-width="2.3" stroke-dasharray="5.4 10.05"/>
<path d="M395.6,998.5 V534.8" stroke-width="2.3" stroke-dasharray="5.4 10.05"/>
</g>
<path d="M110.0,643.1 L574.5,670.7" fill="none" stroke="#10ec18" stroke-width="2.4" stroke-linejoin="round"/>
<path d="M110.0,750.8 L120.1,751.9 L130.2,753.1 L140.4,754.2 L150.7,755.4 L161.0,756.5 L171.3,757.7 L181.6,758.8 L191.9,759.9 L202.1,761.1 L212.2,762.2 L222.2,763.3 L232.1,764.5 L241.9,765.6 L251.4,766.7 L260.8,767.7 L270.0,768.8 L277.4,769.7 L284.5,770.5 L291.5,771.3 L298.2,772.1 L304.9,772.9 L311.4,773.7 L317.9,774.5 L324.3,775.3 L330.8,776.1 L337.4,776.9 L344.0,777.7 L350.8,778.5 L357.7,779.3 L364.9,780.2 L372.3,781.1 L380.0,782.0 L390.6,783.3 L401.7,784.6 L413.1,786.0 L424.8,787.3 L436.7,788.8 L448.9,790.2 L461.3,791.7 L473.8,793.2 L486.4,794.7 L499.1,796.2 L511.9,797.7 L524.6,799.2 L537.2,800.8 L549.8,802.3 L562.2,803.7 L574.5,805.2" fill="none" stroke="#14e6eb" stroke-width="2.4" stroke-linejoin="round"/>
<path d="M110.0,892.5 L574.5,864.6" fill="none" stroke="#14e6eb" stroke-width="2.4" stroke-linejoin="round"/>
<path d="M110.0,628.2 L110.5,628.3 L111.0,628.5 L111.5,628.6 L112.0,628.8 L112.5,628.9 L113.0,629.1 L113.5,629.2 L114.0,629.4 L114.5,629.6 L115.0,629.8 L115.5,630.0 L116.0,630.2 L116.6,630.4 L117.1,630.6 L117.6,630.8 L118.1,631.0 L118.6,631.2 L119.2,631.4 L119.7,631.6 L120.2,631.8 L120.7,632.1 L121.3,632.3 L121.8,632.5 L122.3,632.8 L122.8,633.0 L123.4,633.3 L123.9,633.5 L124.5,633.8 L125.0,634.0 L125.5,634.2 L126.1,634.5 L126.6,634.8 L127.1,635.0 L127.7,635.3 L128.2,635.5 L128.7,635.8 L129.3,636.0 L129.8,636.3 L130.4,636.5 L130.9,636.8 L131.5,637.0 L132.0,637.3 L132.5,637.5 L133.1,637.8 L133.6,638.1 L134.2,638.3 L134.7,638.6 L135.3,638.8 L135.8,639.1 L136.4,639.3 L136.9,639.5 L137.5,639.8 L138.0,640.0 L138.6,640.3 L139.1,640.5 L139.7,640.7 L140.2,640.9 L140.6,641.1 L141.0,641.3 L141.5,641.5 L141.9,641.6 L142.3,641.8 L142.7,641.9 L143.1,642.1 L143.6,642.3 L144.0,642.4 L144.4,642.6 L144.8,642.7 L145.2,642.9 L145.7,643.0 L146.1,643.1 L146.5,643.3 L146.9,643.4 L147.3,643.6 L147.8,643.7 L148.2,643.8 L148.6,643.9 L149.0,644.1 L149.4,644.2 L149.8,644.3 L150.3,644.4 L150.7,644.5 L151.1,644.6 L151.5,644.7 L151.9,644.8 L152.3,644.9 L152.7,644.9 L153.0,645.0 L153.4,645.1 L153.7,645.1 L154.1,645.2 L154.4,645.3 L154.8,645.3 L155.1,645.4 L155.5,645.4 L155.8,645.5 L156.2,645.5 L156.5,645.6 L156.8,645.6 L157.2,645.6 L157.5,645.7 L157.9,645.7 L158.2,645.7 L158.6,645.7 L158.9,645.7 L159.3,645.7 L159.6,645.8 L160.0,645.8 L160.3,645.8 L160.7,645.8 L161.0,645.7 L161.3,645.7 L161.7,645.7 L162.0,645.7 L162.2,645.7 L162.4,645.7 L162.6,645.7 L162.8,645.6 L162.9,645.6 L163.1,645.6 L163.3,645.6 L163.5,645.6 L163.7,645.5 L163.9,645.5 L164.1,645.5 L164.3,645.5 L164.5,645.4 L164.7,645.4 L164.9,645.4 L165.0,645.3 L165.2,645.3 L165.4,645.3 L165.6,645.2 L165.8,645.2 L166.0,645.1 L166.2,645.1 L166.4,645.0 L166.6,645.0 L166.7,644.9 L166.9,644.9 L167.1,644.8 L167.3,644.8 L167.5,644.7 L167.6,644.7 L167.8,644.6 L167.9,644.6 L168.1,644.5 L168.3,644.5 L168.4,644.4 L168.6,644.4 L168.7,644.3 L168.9,644.2 L169.0,644.2 L169.2,644.1 L169.4,644.0 L169.5,644.0 L169.7,643.9 L169.8,643.8 L170.0,643.8 L170.1,643.7 L170.3,643.6 L170.4,643.5 L170.6,643.5 L170.7,643.4 L170.9,643.3 L171.0,643.2 L171.2,643.1 L171.3,643.1 L171.5,643.0 L171.6,642.9 L171.8,642.8 L171.9,642.7 L172.1,642.6 L172.2,642.5 L172.3,642.4 L172.5,642.3 L172.6,642.3 L172.7,642.2 L172.9,642.1 L173.0,642.0 L173.2,641.9 L173.3,641.8 L173.4,641.7 L173.6,641.6 L173.7,641.5 L173.8,641.3 L174.0,641.2 L174.1,641.1 L174.2,641.0 L174.3,640.9 L174.5,640.8 L174.6,640.7 L174.7,640.5 L174.9,640.4 L175.0,640.3 L175.1,640.2 L175.2,640.1 L175.4,639.9 L175.5,639.8 L175.8,640.0 L176.1,640.3 L176.5,640.5 L176.8,640.7 L177.1,640.9 L177.4,641.2 L177.7,641.4 L178.0,641.6 L178.4,641.9 L178.7,642.1 L179.0,642.3 L179.3,642.5 L179.6,642.8 L179.9,643.0 L180.3,643.2 L180.6,643.5 L180.9,643.7 L181.2,643.9 L181.5,644.2 L181.8,644.4 L182.2,644.6 L182.5,644.8 L182.8,645.1 L183.1,645.3 L183.5,645.6 L184.1,646.0 L184.7,646.4 L185.3,646.9 L185.9,647.3 L186.5,647.8 L187.1,648.2 L187.7,648.7 L188.3,649.1 L188.9,649.5 L189.5,650.0 L190.1,650.4 L190.8,650.9 L191.4,651.3 L192.0,651.8 L192.6,652.2 L193.2,652.7 L193.8,653.1 L194.4,653.5 L195.0,654.0 L195.6,654.4 L196.2,654.9 L196.8,655.3 L197.4,655.8 L198.0,656.2 L198.6,656.7 L199.2,657.1 L199.8,657.5 L200.4,658.0 L201.0,658.4 L201.6,658.8 L202.2,659.3 L202.8,659.7 L203.4,660.1 L203.9,660.6 L204.5,661.0 L205.1,661.5 L205.7,661.9 L206.3,662.3 L206.9,662.8 L207.5,663.2 L208.1,663.6 L208.7,664.1 L209.3,664.5 L209.8,665.0 L210.4,665.4 L211.0,665.8 L211.6,666.3 L212.2,666.7 L212.8,667.2 L213.4,667.6 L214.1,668.1 L214.8,668.6 L215.5,669.2 L216.2,669.7 L216.9,670.2 L217.5,670.7 L218.2,671.2 L218.9,671.7 L219.6,672.3 L220.3,672.8 L221.0,673.3 L221.7,673.8 L222.4,674.3 L223.0,674.8 L223.7,675.4 L224.4,675.9 L225.1,676.4 L225.8,676.9 L226.5,677.4 L227.2,677.9 L227.9,678.5 L228.5,679.0 L229.2,679.5 L229.9,680.0 L231.0,680.9 L232.6,682.1 L234.2,683.3 L235.8,684.5 L237.4,685.7 L239.0,686.9 L240.6,688.1 L242.2,689.3 L243.7,690.5 L245.3,691.8 L246.9,693.0 L248.5,694.2 L250.1,695.4 L251.7,696.6 L253.2,697.8 L254.8,699.0 L256.4,700.3 L258.0,701.5 L259.6,702.7 L261.1,703.9 L262.7,705.1 L264.3,706.4 L265.9,707.6 L267.4,708.8 L269.0,710.0 L271.2,711.7 L273.7,713.7 L276.2,715.6 L278.7,717.6 L281.2,719.6 L283.7,721.5 L286.3,723.5 L288.8,725.5 L291.3,727.5 L293.8,729.4 L296.3,731.4 L298.8,733.4 L301.3,735.4 L303.8,737.4 L306.3,739.3 L308.8,741.3 L311.3,743.3 L313.8,745.3 L316.3,747.3 L318.8,749.3 L321.3,751.3 L323.8,753.3 L326.2,755.3 L328.7,757.3 L331.2,759.3 L335.4,762.6 L340.2,766.5 L345.0,770.3 L349.7,774.2 L354.5,778.0 L359.3,781.9 L364.0,785.8 L368.8,789.6 L373.5,793.5 L378.3,797.3 L383.0,801.2 L387.8,805.1 L392.5,809.0 L397.3,812.8 L402.0,816.7 L406.7,820.6 L411.5,824.5 L416.2,828.4 L421.0,832.2 L425.7,836.1 L430.4,840.0 L435.2,843.9 L439.9,847.8 L444.7,851.6 L449.4,855.5 L454.4,859.6 L459.3,863.6 L464.3,867.7 L469.3,871.8 L474.3,875.8 L479.3,879.9 L484.2,884.0 L489.2,888.0 L494.2,892.1 L499.2,896.1 L504.2,900.2 L509.2,904.2 L514.2,908.2 L519.2,912.3 L524.2,916.3 L529.2,920.3 L534.2,924.3 L539.2,928.4 L544.3,932.4 L549.3,936.4 L554.3,940.4 L559.4,944.4 L564.4,948.4 L569.4,952.3 L574.5,956.3" fill="none" stroke="#f0000a" stroke-width="2.4" stroke-linejoin="round"/>
<path d="M110.0,607.8 L111.7,608.5 L113.3,609.3 L114.9,610.0 L116.6,610.8 L118.2,611.6 L119.9,612.4 L121.5,613.2 L123.2,614.1 L124.9,614.9 L126.5,615.8 L128.2,616.7 L129.8,617.6 L131.5,618.5 L133.1,619.4 L134.8,620.3 L136.5,621.2 L138.1,622.1 L139.8,623.1 L140.7,623.6 L141.5,624.0 L142.3,624.4 L143.1,624.9 L143.9,625.3 L144.7,625.8 L145.5,626.2 L146.3,626.7 L147.1,627.1 L147.9,627.5 L148.7,628.0 L149.5,628.4 L150.3,628.9 L151.1,629.3 L151.9,629.7 L152.7,630.2 L153.5,630.6 L154.3,631.0 L155.2,631.4 L156.0,631.9 L156.8,632.3 L157.6,632.7 L158.4,633.1 L159.2,633.5 L160.0,633.9 L160.8,634.3 L161.6,634.7 L162.4,635.1 L163.3,635.5 L164.1,635.9 L164.9,636.3 L165.7,636.7 L166.5,637.1 L167.4,637.5 L168.2,637.9 L169.0,638.2 L169.5,638.4 L169.8,638.6 L170.2,638.8 L170.5,638.9 L170.9,639.1 L171.3,639.2 L171.6,639.4 L172.0,639.5 L172.3,639.7 L172.7,639.8 L173.0,640.0 L173.4,640.1 L173.7,640.3 L174.1,640.4 L174.5,640.6 L174.8,640.7 L175.2,640.8 L175.5,641.0 L175.9,641.2 L176.4,641.3 L176.9,641.5 L177.3,641.7 L177.8,641.9 L178.2,642.0 L178.7,642.2 L179.1,642.4 L179.6,642.5 L180.0,642.7 L180.5,642.8 L180.9,643.0 L181.4,643.2 L181.8,643.3 L182.3,643.5 L182.8,643.6 L183.2,643.8 L183.7,643.9 L184.1,644.1 L184.5,644.2 L184.9,644.3 L185.3,644.5 L185.7,644.6 L186.1,644.7 L186.5,644.8 L186.9,644.9 L187.4,645.1 L187.8,645.2 L188.2,645.3 L188.6,645.4 L189.0,645.5 L189.4,645.6 L189.8,645.7 L190.2,645.8 L190.6,645.9 L191.0,646.0 L191.4,646.1 L191.8,646.2 L192.2,646.3 L192.6,646.4 L193.1,646.5 L193.5,646.6 L193.9,646.7 L194.3,646.8 L194.7,646.9 L195.1,646.9 L195.5,647.0 L195.9,647.1 L196.3,647.1 L196.7,647.2 L197.1,647.3 L197.5,647.3 L197.9,647.4 L198.3,647.4 L198.6,647.5 L198.9,647.5 L199.2,647.5 L199.5,647.5 L199.9,647.6 L200.2,647.6 L200.5,647.6 L200.8,647.6 L201.1,647.6 L201.4,647.6 L201.7,647.6 L202.0,647.6 L202.3,647.6 L202.6,647.6 L202.9,647.6 L203.2,647.5 L203.5,647.5 L203.8,647.5 L204.1,647.5 L204.3,647.4 L204.5,647.4 L204.8,647.4 L205.0,647.3 L205.2,647.3 L205.4,647.3 L205.7,647.2 L205.9,647.2 L206.1,647.1 L206.3,647.1 L206.6,647.0 L206.8,647.0 L207.0,646.9 L207.2,646.8 L207.5,646.8 L207.7,646.7 L207.9,646.6 L208.1,646.5 L208.3,646.5 L208.5,646.4 L208.6,646.4 L208.8,646.3 L209.0,646.2 L209.1,646.1 L209.3,646.1 L209.5,646.0 L209.6,645.9 L209.8,645.8 L210.0,645.8 L210.1,645.7 L210.3,645.6 L210.5,645.5 L210.6,645.4 L210.8,645.3 L211.0,645.2 L211.1,645.1 L211.3,645.0 L211.5,644.9 L211.7,644.8 L211.8,644.7 L212.0,644.5 L212.2,644.4 L212.3,644.3 L212.5,644.2 L212.7,644.0 L212.9,643.9 L213.0,643.7 L213.2,643.6 L213.4,643.5 L213.5,643.3 L213.7,643.2 L213.9,643.0 L214.0,642.9 L214.2,642.7 L214.5,642.9 L214.7,643.1 L215.0,643.3 L215.3,643.5 L215.6,643.8 L215.8,644.0 L216.1,644.2 L216.4,644.4 L216.7,644.6 L216.9,644.8 L217.2,645.0 L217.5,645.2 L217.8,645.4 L218.0,645.6 L218.3,645.9 L218.6,646.1 L218.8,646.3 L219.1,646.5 L219.4,646.7 L219.7,646.9 L219.9,647.1 L220.2,647.3 L220.5,647.5 L220.8,647.7 L221.0,648.0 L221.3,648.2 L221.6,648.4 L221.9,648.6 L222.2,648.8 L222.5,649.0 L222.8,649.3 L223.1,649.5 L223.4,649.8 L223.7,650.0 L224.0,650.2 L224.3,650.5 L224.6,650.7 L224.9,650.9 L225.2,651.2 L225.5,651.4 L225.8,651.7 L226.2,651.9 L226.5,652.1 L226.8,652.4 L227.1,652.6 L227.4,652.8 L227.7,653.1 L228.0,653.3 L228.3,653.5 L228.6,653.8 L228.9,654.0 L229.2,654.3 L229.5,654.5 L229.8,654.7 L230.1,655.0 L230.5,655.2 L230.8,655.4 L231.1,655.7 L231.5,656.0 L231.8,656.2 L232.1,656.5 L232.5,656.8 L232.8,657.0 L233.2,657.3 L233.5,657.6 L233.9,657.8 L234.2,658.1 L234.5,658.4 L234.9,658.6 L235.2,658.9 L235.6,659.1 L235.9,659.4 L236.2,659.7 L236.6,659.9 L236.9,660.2 L237.3,660.5 L237.6,660.7 L238.0,661.0 L238.3,661.3 L238.6,661.5 L239.0,661.8 L239.3,662.1 L239.7,662.3 L240.0,662.6 L240.4,662.8 L241.2,663.5 L242.2,664.3 L243.3,665.1 L244.3,665.9 L245.3,666.7 L246.4,667.5 L247.4,668.3 L248.4,669.1 L249.5,669.9 L250.5,670.7 L251.5,671.5 L252.6,672.3 L253.6,673.1 L254.6,673.9 L255.7,674.7 L256.7,675.5 L257.7,676.3 L258.8,677.1 L259.8,677.9 L260.8,678.7 L261.9,679.5 L262.9,680.3 L263.9,681.1 L265.0,681.9 L266.0,682.7 L267.0,683.5 L268.1,684.3 L269.1,685.1 L270.8,686.5 L274.2,689.1 L277.5,691.7 L280.9,694.3 L284.2,696.9 L287.6,699.5 L290.9,702.1 L294.3,704.7 L297.6,707.4 L301.0,710.0 L304.3,712.6 L307.7,715.2 L311.0,717.8 L314.4,720.5 L317.7,723.1 L321.1,725.7 L324.4,728.3 L327.8,731.0 L331.1,733.6 L334.4,736.2 L337.8,738.9 L341.1,741.5 L344.5,744.1 L347.8,746.7 L351.1,749.4 L354.5,752.0 L357.8,754.7 L361.1,757.3 L364.5,759.9 L368.1,762.8 L371.8,765.7 L375.5,768.7 L379.2,771.6 L382.9,774.5 L386.6,777.5 L390.3,780.4 L394.0,783.4 L397.7,786.3 L401.4,789.2 L405.1,792.2 L408.8,795.1 L412.5,798.1 L416.2,801.0 L419.9,804.0 L423.6,806.9 L427.3,809.8 L431.0,812.8 L434.7,815.7 L438.4,818.7 L442.1,821.6 L445.8,824.6 L449.5,827.5 L453.1,830.5 L456.8,833.4 L460.5,836.4 L464.2,839.4 L467.9,842.3 L471.6,845.3 L475.3,848.2 L478.9,851.2 L482.6,854.1 L486.3,857.1 L490.0,860.0 L493.7,863.0 L497.3,866.0 L501.0,868.9 L504.7,871.9 L508.4,874.8 L512.1,877.8 L515.7,880.8 L519.4,883.7 L523.1,886.7 L526.8,889.6 L530.4,892.6 L534.1,895.6 L537.8,898.5 L541.5,901.5 L545.1,904.5 L548.8,907.4 L552.5,910.4 L556.1,913.4 L559.8,916.3 L563.5,919.3 L567.2,922.3 L570.8,925.2 L574.5,928.2" fill="none" stroke="#0a00e6" stroke-width="2.4" stroke-linejoin="round"/>
<path d="M110.0,763.0 L110.7,763.1 L111.4,763.2 L112.1,763.3 L112.8,763.4 L113.5,763.5 L114.2,763.6 L114.9,763.8 L115.6,763.9 L116.3,764.0 L116.9,764.2 L117.6,764.4 L118.3,764.5 L119.0,764.7 L119.7,764.9 L120.4,765.1 L121.0,765.3 L121.7,765.5 L122.4,765.8 L123.0,766.0 L123.7,766.2 L124.4,766.5 L125.0,766.7 L125.7,767.0 L126.3,767.2 L126.9,767.5 L127.6,767.8 L128.2,768.1 L128.9,768.4 L129.5,768.7 L130.1,769.0 L130.8,769.4 L131.7,769.8 L132.5,770.3 L133.3,770.8 L134.1,771.3 L135.0,771.8 L135.8,772.3 L136.5,772.8 L137.3,773.4 L138.1,774.0 L138.8,774.5 L139.6,775.1 L140.3,775.7 L141.0,776.4 L141.7,777.0 L142.3,777.6 L142.7,778.0 L143.2,778.4 L143.6,778.9 L144.0,779.3 L144.4,779.7 L144.7,780.1 L145.1,780.6 L145.5,781.0 L145.9,781.5 L146.2,781.9 L146.6,782.4 L146.9,782.8 L147.3,783.3 L147.6,783.8 L147.9,784.2 L148.2,784.7 L148.5,785.2 L148.8,785.6 L149.1,786.1 L149.4,786.6 L149.7,787.1 L149.9,787.6 L150.2,788.1 L150.4,788.6 L150.7,789.0 L150.9,789.5 L151.2,790.1 L151.4,790.6 L151.6,791.1 L151.8,791.6 L152.1,792.1 L152.3,792.7 L152.5,793.3 L152.7,793.9 L153.0,794.4 L153.2,795.0 L153.4,795.6 L153.6,796.2 L153.8,796.8 L153.9,797.4 L154.1,798.0 L154.3,798.6 L154.5,799.2 L154.6,799.8 L154.8,800.4 L155.0,801.0 L155.1,801.7 L155.3,802.4 L155.5,803.1 L155.6,803.8 L155.8,804.5 L155.9,805.2 L156.1,805.9 L156.2,806.6 L156.4,807.3 L156.5,808.0 L156.6,808.7 L156.7,809.4 L156.9,810.1 L157.0,810.8 L157.1,811.5 L157.2,812.3 L157.4,813.0 L157.5,813.8 L157.6,814.5 L157.7,815.3 L157.8,816.0 L157.9,816.7 L158.0,817.5 L158.1,818.2 L158.2,819.0 L158.4,819.7 L158.4,820.5 L158.5,821.2 L158.6,821.9 L158.7,822.7 L158.8,823.5 L158.9,824.2 L159.0,825.0 L159.1,825.8 L159.2,826.6 L159.3,827.4 L159.4,828.2 L159.4,828.9 L159.5,829.7 L159.6,830.5 L159.7,831.3 L159.7,832.1 L159.8,832.9 L159.9,833.6 L159.9,834.4 L160.0,835.2 L160.1,836.1 L160.1,836.9 L160.2,837.8 L160.3,838.6 L160.3,839.5 L160.4,840.3 L160.4,841.2 L160.5,842.0 L160.5,842.9 L160.6,843.7 L160.6,844.5 L160.7,845.4 L160.7,846.2 L160.8,847.1 L160.8,847.9 L160.8,848.7 L160.9,849.5 L160.9,850.3 L160.9,851.1 L161.0,851.9 L161.0,852.6 L161.0,853.4 L161.0,854.2 L161.1,855.0 L161.1,855.8 L161.1,856.6 L161.1,857.3 L161.1,858.1 L161.2,858.9 L161.2,859.7 L161.2,860.5 L161.2,861.3 L161.2,862.0 L161.2,862.8 L161.2,863.6 L161.3,864.4 L161.3,865.2 L161.3,866.0 L161.3,866.7 L161.3,867.5 L161.3,868.3 L161.3,869.1 L161.3,869.9 L161.3,870.7 L161.3,871.4 L161.3,872.2 L161.3,873.1 L161.3,873.9 L161.3,874.8 L161.3,875.6 L161.3,876.5 L161.3,877.3 L161.3,878.2 L161.3,879.0 L161.3,879.9 L161.3,880.7 L161.3,881.6 L161.3,882.4 L161.3,883.3 L161.3,884.1 L161.3,885.0 L161.3,998.8 L161.3,885.0 L161.3,883.0 L161.3,881.1 L161.2,879.1 L161.2,877.2 L161.2,875.2 L161.3,873.2 L161.3,871.3 L161.3,869.5 L161.3,867.7 L161.4,865.9 L161.4,864.1 L161.4,862.3 L161.5,860.5 L161.5,858.7 L161.6,856.9 L161.7,855.1 L161.7,853.3 L161.8,851.4 L161.9,849.6 L162.0,847.8 L162.1,845.9 L162.2,843.9 L162.3,841.9 L162.4,840.0 L162.5,838.0 L162.6,836.0 L162.8,833.3 L163.1,829.7 L163.3,826.1 L163.6,822.4 L163.9,818.8 L164.2,815.2 L164.5,811.6 L164.8,808.0 L165.1,804.4 L165.4,800.7 L165.7,797.1 L166.0,793.5 L166.4,789.9 L166.7,786.2 L167.1,782.5 L167.4,778.7 L167.7,775.0 L168.1,771.2 L168.4,767.4 L168.8,763.7 L169.1,760.0 L169.4,756.4 L169.7,752.8 L170.0,749.2 L170.3,745.6 L170.5,741.9 L170.8,738.3 L171.0,734.9 L171.3,731.4 L171.5,728.0 L171.7,724.5 L171.9,721.0 L172.1,717.6 L172.2,714.5 L172.3,712.2 L172.5,710.0 L172.6,707.7 L172.7,705.5 L172.8,703.2 L172.9,700.9 L173.0,697.7 L173.2,693.9 L173.4,690.1 L173.6,686.3 L173.7,682.6 L173.9,678.8 L174.1,675.0 L174.2,671.9 L174.3,668.9 L174.5,665.8 L174.6,662.7 L174.8,659.7 L174.9,656.6 L175.1,653.7 L175.2,651.3 L175.3,648.8 L175.5,646.4 L175.7,644.0 L175.9,641.5 L176.1,639.1 L176.4,636.7 L176.7,634.2 L177.1,631.8 L177.6,629.4 L178.1,627.0 L178.7,624.6 L179.3,622.5 L179.6,621.5 L180.0,620.4 L180.4,619.4 L180.8,618.4 L181.2,617.4 L181.6,616.4 L182.1,615.4 L182.5,614.5 L183.0,613.5 L183.6,612.5 L184.1,611.6 L184.7,610.6 L185.3,609.7 L185.8,608.9 L186.4,608.1 L187.0,607.3 L187.6,606.5 L188.2,605.7 L188.9,604.9 L189.5,604.1 L190.3,603.3 L191.0,602.5 L191.8,601.7 L192.6,600.9 L193.4,600.1 L194.2,599.4 L195.2,598.5 L196.3,597.6 L197.5,596.6 L198.6,595.7 L199.8,594.9 L201.1,594.0 L202.3,593.2 L203.6,592.4 L204.9,591.6 L206.2,590.9 L207.5,590.2 L208.8,589.5 L210.2,588.8 L212.3,587.8 L216.0,586.2 L219.8,584.8 L223.7,583.5 L227.6,582.2 L231.5,581.1 L235.4,580.0 L239.3,579.0 L243.1,578.0 L247.0,577.1 L250.8,576.3 L254.6,575.4 L258.4,574.7 L262.2,573.9 L265.9,573.2 L269.6,572.5 L273.4,571.9 L277.1,571.2 L280.8,570.6 L284.5,570.0 L287.5,569.5 L289.5,569.2 L291.6,568.9 L293.6,568.5 L295.7,568.2 L297.7,567.9 L299.7,567.6 L302.5,567.2 L305.5,566.7 L308.5,566.3 L311.5,565.8 L314.5,565.4 L317.5,565.0 L320.9,564.5 L326.3,563.8 L331.6,563.1 L337.0,562.4 L342.3,561.7 L347.7,561.0 L353.0,560.4 L358.7,559.7 L364.7,559.0 L370.8,558.3 L376.8,557.6 L382.8,557.0 L388.8,556.4 L394.9,555.7 L401.5,555.1 L408.2,554.4 L414.9,553.8 L421.6,553.2 L428.4,552.6 L435.1,552.0 L442.5,551.4 L451.7,550.7 L461.0,550.0 L470.2,549.3 L479.5,548.6 L488.7,548.0 L498.0,547.4 L508.4,546.7 L519.4,546.0 L530.4,545.4 L541.5,544.8 L552.5,544.2 L563.5,543.6 L574.5,543.0" fill="none" stroke="#f0000a" stroke-width="2.4" stroke-linejoin="round"/>
<path d="M110.0,755.5 L111.3,755.6 L112.5,755.6 L113.8,755.6 L115.2,755.7 L116.5,755.7 L117.8,755.7 L119.2,755.8 L120.6,755.8 L122.0,755.8 L123.4,755.9 L124.8,755.9 L126.2,756.0 L127.7,756.0 L129.1,756.1 L130.6,756.1 L132.0,756.2 L133.5,756.3 L134.9,756.4 L136.4,756.5 L137.8,756.6 L139.3,756.7 L140.7,756.8 L142.2,756.9 L143.6,757.1 L145.1,757.3 L146.5,757.5 L148.0,757.7 L149.4,757.9 L150.7,758.1 L151.8,758.3 L152.9,758.5 L154.1,758.7 L155.2,759.0 L156.3,759.2 L157.4,759.5 L158.5,759.8 L159.6,760.1 L160.7,760.4 L161.8,760.8 L162.9,761.1 L163.9,761.5 L165.0,761.9 L165.9,762.2 L166.6,762.5 L167.2,762.8 L167.9,763.1 L168.6,763.4 L169.2,763.7 L169.9,764.0 L170.5,764.3 L171.1,764.7 L171.8,765.0 L172.4,765.4 L173.0,765.7 L173.6,766.1 L174.2,766.5 L174.8,766.8 L175.2,767.2 L175.7,767.5 L176.1,767.8 L176.6,768.1 L177.0,768.4 L177.4,768.8 L177.8,769.1 L178.3,769.4 L178.7,769.8 L179.1,770.1 L179.5,770.5 L179.9,770.9 L180.3,771.2 L180.7,771.6 L181.1,772.0 L181.5,772.4 L181.9,772.8 L182.3,773.2 L182.7,773.6 L183.1,774.1 L183.4,774.5 L183.8,774.9 L184.2,775.4 L184.5,775.8 L184.9,776.2 L185.2,776.7 L185.6,777.1 L185.9,777.6 L186.3,778.1 L186.7,778.7 L187.1,779.3 L187.5,779.9 L187.9,780.4 L188.3,781.0 L188.6,781.6 L189.0,782.2 L189.3,782.8 L189.7,783.4 L190.0,784.1 L190.3,784.7 L190.6,785.3 L190.9,785.9 L191.3,786.7 L191.7,787.5 L192.0,788.4 L192.4,789.3 L192.7,790.1 L193.1,791.0 L193.4,791.9 L193.7,792.8 L194.0,793.7 L194.3,794.6 L194.6,795.5 L194.8,796.4 L195.1,797.3 L195.3,798.3 L195.6,799.2 L195.8,800.4 L196.1,801.5 L196.3,802.6 L196.5,803.7 L196.8,804.8 L197.0,806.0 L197.2,807.1 L197.4,808.3 L197.5,809.4 L197.7,810.5 L197.9,811.7 L198.1,812.8 L198.2,814.0 L198.4,815.1 L198.5,816.5 L198.7,817.9 L198.9,819.4 L199.0,820.8 L199.2,822.2 L199.3,823.6 L199.5,825.0 L199.6,826.4 L199.7,827.8 L199.9,829.2 L200.0,830.6 L200.1,832.0 L200.2,833.4 L200.3,834.8 L200.4,835.8 L200.4,836.7 L200.5,837.6 L200.6,838.5 L200.6,839.5 L200.7,840.4 L200.7,841.3 L200.8,842.2 L200.8,843.1 L200.9,844.0 L200.9,844.9 L201.0,845.8 L201.0,846.8 L201.0,847.7 L201.1,848.5 L201.1,849.4 L201.2,850.2 L201.2,851.1 L201.2,851.9 L201.3,852.7 L201.3,853.6 L201.3,854.4 L201.4,855.3 L201.4,856.1 L201.4,857.0 L201.4,857.8 L201.5,858.7 L201.5,859.5 L201.5,860.4 L201.5,861.2 L201.6,862.0 L201.6,862.9 L201.6,863.7 L201.6,864.6 L201.6,865.4 L201.6,866.3 L201.7,867.1 L201.7,868.0 L201.7,868.8 L201.7,869.6 L201.7,870.5 L201.7,871.3 L201.7,872.2 L201.7,873.1 L201.7,874.0 L201.7,874.9 L201.7,875.9 L201.7,876.8 L201.7,877.7 L201.7,878.6 L201.7,879.5 L201.7,880.4 L201.7,881.3 L201.7,882.3 L201.7,883.2 L201.7,884.1 L201.7,885.0 L201.7,998.8 L201.7,885.0 L201.6,883.0 L201.6,881.1 L201.5,879.1 L201.5,877.2 L201.5,875.2 L201.5,873.2 L201.5,871.3 L201.6,869.5 L201.6,867.7 L201.7,865.9 L201.8,864.1 L201.8,862.3 L201.9,860.5 L202.0,858.7 L202.1,856.9 L202.2,855.1 L202.3,853.3 L202.5,851.4 L202.6,849.6 L202.7,847.8 L202.8,845.9 L203.0,843.9 L203.1,841.9 L203.2,840.0 L203.4,838.0 L203.5,836.0 L203.7,832.4 L204.0,826.8 L204.3,821.2 L204.6,815.7 L204.9,810.1 L205.1,804.5 L205.4,798.9 L205.6,793.5 L205.9,788.1 L206.2,782.6 L206.5,777.2 L206.8,771.8 L207.2,766.3 L207.6,761.3 L207.9,757.6 L208.2,754.0 L208.6,750.4 L208.9,746.7 L209.3,743.1 L209.6,739.5 L210.0,736.0 L210.3,732.5 L210.6,729.0 L210.9,725.5 L211.2,722.1 L211.5,718.6 L211.7,715.2 L211.8,712.8 L211.9,710.6 L212.0,708.3 L212.1,706.1 L212.2,703.8 L212.3,701.6 L212.4,698.9 L212.5,695.2 L212.6,691.4 L212.7,687.7 L212.7,683.9 L212.8,680.2 L212.9,676.4 L213.0,673.2 L213.1,670.2 L213.2,667.1 L213.3,664.1 L213.4,661.1 L213.6,658.1 L213.8,655.1 L213.9,653.2 L214.0,651.4 L214.2,649.6 L214.3,647.7 L214.5,645.9 L214.6,644.0 L214.9,642.0 L215.1,639.6 L215.4,637.3 L215.7,635.0 L216.1,632.6 L216.5,630.3 L217.0,628.1 L217.3,626.8 L217.6,625.8 L217.8,624.9 L218.1,623.9 L218.4,622.9 L218.7,622.0 L219.0,621.1 L219.3,620.1 L219.7,619.2 L220.1,618.3 L220.5,617.4 L220.9,616.5 L221.3,615.6 L221.8,614.6 L222.4,613.5 L223.1,612.5 L223.8,611.4 L224.5,610.4 L225.2,609.4 L226.0,608.4 L226.7,607.4 L227.5,606.5 L228.4,605.7 L229.2,604.8 L230.1,604.0 L231.0,603.2 L231.9,602.4 L233.1,601.4 L234.3,600.5 L235.6,599.7 L236.9,598.9 L238.2,598.1 L239.5,597.3 L240.9,596.6 L242.3,595.9 L243.7,595.2 L245.1,594.5 L246.5,593.9 L248.0,593.2 L249.4,592.6 L253.0,591.1 L256.7,589.7 L260.4,588.3 L264.2,587.0 L267.9,585.7 L271.7,584.5 L275.4,583.4 L279.1,582.4 L282.8,581.4 L286.5,580.4 L290.2,579.5 L293.9,578.6 L297.6,577.8 L300.9,577.1 L304.1,576.4 L307.3,575.8 L310.4,575.2 L313.6,574.6 L316.8,574.1 L320.1,573.5 L325.5,572.7 L330.9,571.9 L336.3,571.1 L341.7,570.3 L347.2,569.6 L352.6,568.9 L358.3,568.2 L364.3,567.5 L370.4,566.7 L376.4,566.0 L382.4,565.3 L388.5,564.6 L394.5,563.9 L398.7,563.5 L402.3,563.1 L406.0,562.7 L409.7,562.3 L413.3,561.9 L417.0,561.5 L420.6,561.2 L423.6,560.9 L426.6,560.6 L429.6,560.3 L432.6,560.0 L435.6,559.7 L438.6,559.4 L442.4,559.0 L446.9,558.6 L451.5,558.2 L456.0,557.8 L460.5,557.4 L465.0,557.0 L469.5,556.7 L474.2,556.3 L478.9,555.9 L483.6,555.5 L488.4,555.2 L493.1,554.8 L497.8,554.5 L502.8,554.1 L508.6,553.7 L514.5,553.3 L520.3,552.9 L526.1,552.6 L532.0,552.2 L537.8,551.9 L543.2,551.6 L548.4,551.3 L553.6,551.1 L558.9,550.8 L564.1,550.6 L569.3,550.3 L574.5,550.1" fill="none" stroke="#0a00e6" stroke-width="2.4" stroke-linejoin="round"/>
<g stroke="#000" stroke-width="1.6" fill="none" stroke-linecap="round">
<path d="M462.8,544.2 C461.5,541.5 459.5,540.8 457.5,540.9 C453.5,541.2 452.1,543.5 452.1,547 V557 C452.1,561 454,563.6 458.5,563.9 L463,564.2 H493"/>
<path d="M303.2,700.5 C301,696 298.5,694.3 295.8,694.3 C288,694.5 281.4,705 281.4,719 C281.4,732 286.5,741.5 293.3,741.5 C295,741.5 296.5,740.6 297.5,739"/>
<path d="M285,736.5 H253"/>
<path d="M486.6,666.3 H413"/>
<path d="M484.6,794.9 H428"/>
<path d="M260.1,883.8 H319"/>
</g>
<path d="M500.3,564.2 L491.3,559.6 L491.3,568.8 Z" fill="#000"/>
<path d="M245.4,736.5 L254.4,731.9 L254.4,741.1 Z" fill="#000"/>
<path d="M405.1,666.3 L414.1,661.7 L414.1,670.9 Z" fill="#000"/>
<path d="M420.0,794.9 L429.0,790.3 L429.0,799.5 Z" fill="#000"/>
<path d="M326.7,883.8 L317.7,879.2 L317.7,888.4 Z" fill="#000"/>
<text x="295.4" y="648.4" class="sans">1</text>
<text x="298.5" y="795.3" class="sans">2</text>
<text x="404.3" y="849.3" class="sans">4</text>
<text x="467.0" y="841.9" class="sans">3</text>
<text x="294.4" y="871.9" class="sans">2'</text>
<text x="136.4" y="868.4" class="sans">4'</text>
<text x="176.4" y="868.4" class="sans">3'</text>
</svg></body></html>
